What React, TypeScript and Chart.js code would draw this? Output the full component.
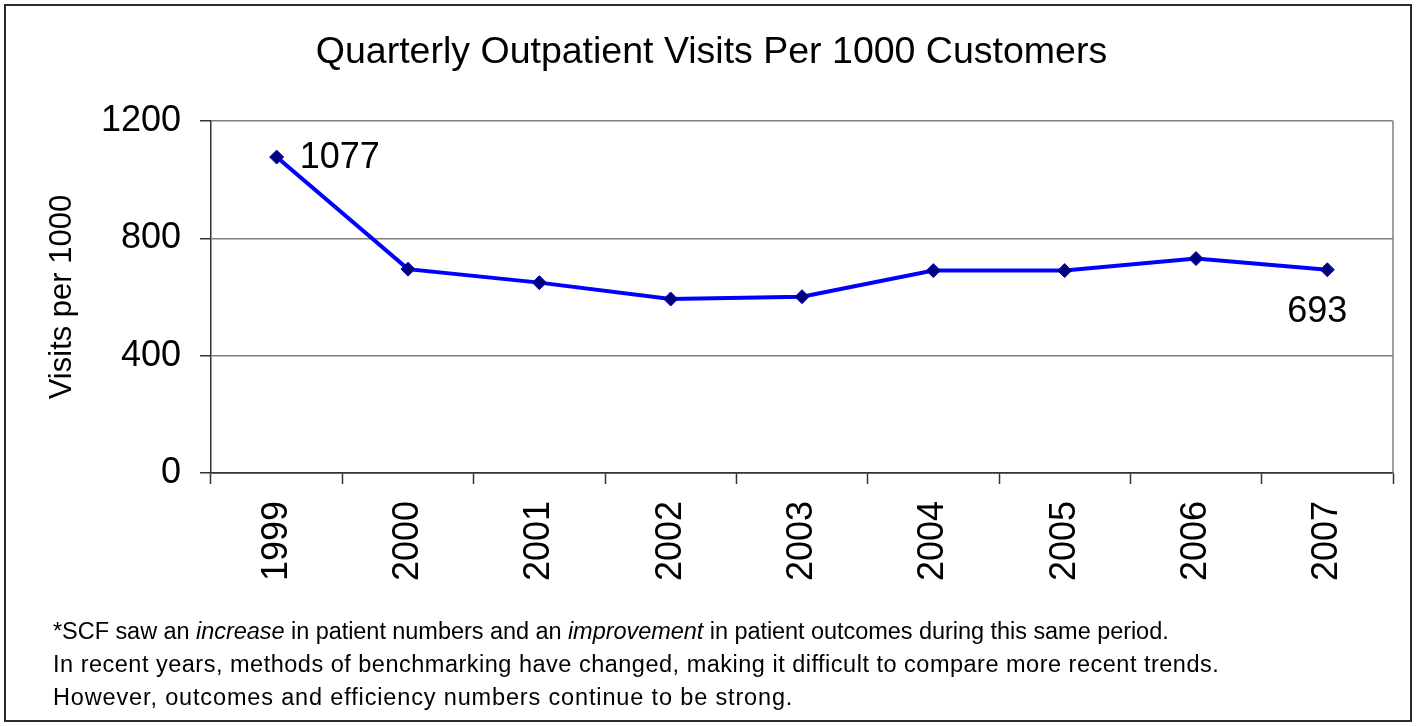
import React, { useEffect, useRef } from "react";
import { Chart, registerables } from "chart.js";

Chart.register(...registerables);

const years = ["1999", "2000", "2001", "2002", "2003", "2004", "2005", "2006", "2007"];
const visits = [1077, 695, 649, 593, 601, 690, 690, 731, 693];
const yTicks = [0, 400, 800, 1200];
const chartTitle = "Quarterly Outpatient Visits Per 1000 Customers";
const yAxisTitle = "Visits per 1000";
const firstLabel = "1077";
const lastLabel = "693";

const FONT = "'Liberation Sans', Arial, Helvetica, sans-serif";

const extrasPlugin = {
  id: "extras",
  afterDatasetsDraw(chart: any) {
    const { ctx, chartArea } = chart;
    ctx.save();
    ctx.strokeStyle = "#808080";
    ctx.lineWidth = 1.5;
    ctx.beginPath();
    ctx.moveTo(chartArea.right, chartArea.top);
    ctx.lineTo(chartArea.right, chartArea.bottom);
    ctx.stroke();
    const meta = chart.getDatasetMeta(0);
    const p0 = meta.data[0];
    const pN = meta.data[meta.data.length - 1];
    ctx.fillStyle = "#000";
    ctx.font = `36px ${FONT}`;
    ctx.textBaseline = "middle";
    ctx.textAlign = "left";
    ctx.fillText(firstLabel, p0.x + 23, p0.y + 1);
    ctx.textAlign = "center";
    ctx.fillText(lastLabel, pN.x - 10, pN.y + 42);
    ctx.restore();
  },
};

export default function App() {
  const canvasRef = useRef<HTMLCanvasElement | null>(null);

  useEffect(() => {
    const canvas = canvasRef.current;
    if (!canvas) return;
    const chart = new Chart(canvas, {
      type: "line",
      data: {
        labels: years,
        datasets: [
          {
            data: visits,
            borderColor: "#0000FF",
            borderWidth: 4,
            tension: 0,
            pointStyle: "rectRot",
            pointRadius: 7,
            pointBackgroundColor: "#000080",
            pointBorderColor: "#0000a8",
            pointBorderWidth: 1,
          },
        ],
      },
      options: {
        responsive: false,
        animation: false,
        devicePixelRatio: 1,
        layout: { padding: { left: 30, top: 0, right: 24, bottom: 0 } },
        plugins: {
          legend: { display: false },
          tooltip: { enabled: false },
          title: {
            display: true,
            text: chartTitle,
            color: "#000",
            font: { family: FONT, size: 37.5, weight: "normal" },
            padding: { top: 30.5, bottom: 45.5 },
          },
        },
        scales: {
          x: {
            type: "category",
            offset: true,
            grid: {
              offset: true,
              drawOnChartArea: false,
              drawTicks: true,
              tickLength: 11,
              tickColor: "#333",
              tickWidth: 1.5,
            },
            border: { color: "#333", width: 1.5 },
            ticks: {
              color: "#000",
              font: { family: FONT, size: 36 },
              minRotation: 90,
              maxRotation: 90,
              padding: 17,
              autoSkip: false,
            },
            afterFit: (s: any) => {
              s.height = 726 - 473;
            },
          },
          y: {
            min: 0,
            max: 1200,
            afterBuildTicks: (s: any) => {
              s.ticks = yTicks.map((v) => ({ value: v }));
            },
            grid: {
              color: (c: any) => (c.tick && c.tick.value === 0 ? "#333" : "#808080"),
              lineWidth: 1.5,
              tickLength: 11,
              tickColor: "#333",
              tickWidth: 1.5,
            },
            border: { color: "#333", width: 1.5 },
            ticks: {
              color: "#000",
              font: { family: FONT, size: 36 },
              padding: 19,
              callback: (v: any) => String(v),
            },
            title: {
              display: true,
              text: yAxisTitle,
              color: "#000",
              font: { family: FONT, size: 31 },
              padding: { top: 13.4, bottom: 0 },
            },
            afterFit: (s: any) => {
              s.width = 211 - 30;
            },
          },
        },
      },
      plugins: [extrasPlugin],
    });
    return () => chart.destroy();
  }, []);

  return (
    <div style={{ position: "absolute", left: 0, top: 0, width: 1417, height: 726, background: "#fff", overflow: "hidden" }}>
      <div
        style={{
          position: "absolute",
          left: 4,
          top: 4,
          width: 1408,
          height: 718,
          boxSizing: "border-box",
          border: "2px solid #2b2b2b",
        }}
      />
      <canvas ref={canvasRef} width={1417} height={726} style={{ position: "absolute", left: 0, top: 0, width: 1417, height: 726 }} />
      <div
        style={{
          position: "absolute",
          left: 53,
          top: 615,
          fontFamily: FONT,
          fontSize: 23.5,
          lineHeight: "33px",
          color: "#000",
          whiteSpace: "nowrap",
        }}
      >
        <div style={{ letterSpacing: "-0.05px" }}>
          *SCF saw an <i>increase</i> in patient numbers and an <i>improvement</i> in patient outcomes during this same period.
        </div>
        <div style={{ letterSpacing: "0.5px" }}>
          In recent years, methods of benchmarking have changed, making it difficult to compare more recent trends.
        </div>
        <div style={{ letterSpacing: "0.85px" }}>However, outcomes and efficiency numbers continue to be strong.</div>
      </div>
    </div>
  );
}
